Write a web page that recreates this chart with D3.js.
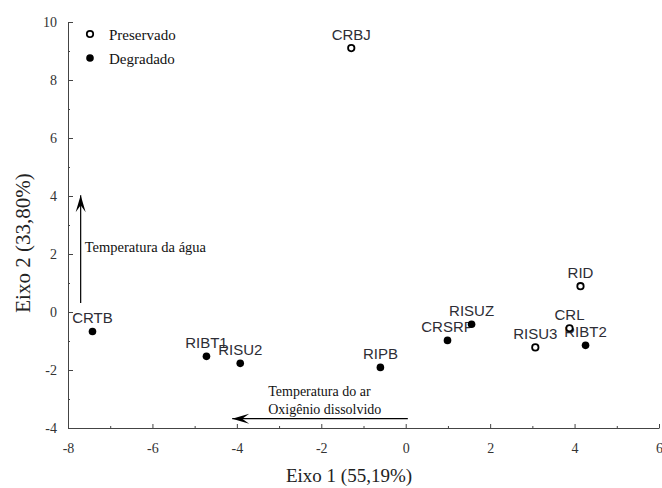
<!DOCTYPE html>
<html>
<head>
<meta charset="utf-8">
<script src="https://cdn.jsdelivr.net/npm/d3@7"></script>
<style>
  body { margin: 0; background: #fff; }
  svg { display: block; }
</style>
</head>
<body>
<div id="chart"></div>
<script>
// site scores on the two ordination axes
var sites = ["CRBJ", "CRTB", "RIBT1", "RISU2", "RIPB", "CRSRP", "RISUZ", "RISU3", "CRL", "RID", "RIBT2"];
var eixo1 = [-1.29, -7.42, -4.72, -3.92, -0.60, 0.99, 1.56, 3.07, 3.88, 4.14, 4.26];
var eixo2 = [9.10, -0.67, -1.53, -1.77, -1.91, -0.98, -0.42, -1.22, -0.56, 0.89, -1.15];
var grupo = ["Preservado", "Degradado", "Degradado", "Degradado", "Degradado", "Degradado",
             "Degradado", "Preservado", "Preservado", "Preservado", "Degradado"];

var legendLabels = ["Preservado", "Degradado"];

// environmental vectors (start -> end, axis units)
var vecX1 = [-7.70, 0.05];
var vecY1 = [0.31, -3.68];
var vecX2 = [-7.70, -4.11];
var vecY2 = [4.03, -3.68];
var vecText = [["Temperatura da água"], ["Temperatura do ar", "Oxigênio dissolvido"]];

var xTicks = d3.range(-8, 7, 1);
var yTicks = d3.range(-4, 11, 1);

var width = 662, height = 488;

var svg = d3.select("#chart").append("svg")
    .attr("width", width)
    .attr("height", height);

var x = d3.scaleLinear().domain([-8, 6]).range([68, 659]);
var y = d3.scaleLinear().domain([-4, 10]).range([428, 22]);

var serif = "'Liberation Serif', 'Times New Roman', serif";
var sans = "'Liberation Sans', Arial, sans-serif";

// axes, ticks pointing inward, labels only on even values
var xAxis = svg.append("g")
    .attr("transform", "translate(0," + y(-4) + ")")
    .call(d3.axisBottom(x).tickValues(xTicks).tickSizeInner(-4).tickSizeOuter(0).tickPadding(15)
      .tickFormat(function(d) { return d % 2 === 0 ? d : ""; }));

var yAxis = svg.append("g")
    .attr("transform", "translate(" + x(-8) + ",0)")
    .call(d3.axisLeft(y).tickValues(yTicks).tickSizeInner(-5).tickSizeOuter(0).tickPadding(11)
      .tickFormat(function(d) { return d % 2 === 0 ? d : ""; }));

[xAxis, yAxis].forEach(function(ax) {
  ax.select(".domain").attr("stroke", "#444");
  ax.selectAll(".tick line").attr("stroke", "#444")
  ax.selectAll("text")
      .attr("font-family", serif)
      .attr("font-size", 14)
      .attr("fill", "#333");
});
xAxis.selectAll(".tick line").filter(function(d) { return d % 2 !== 0; }).attr("y2", -2);
yAxis.selectAll(".tick line").filter(function(d) { return d % 2 !== 0; }).attr("x2", 2);

// axis titles
svg.append("text")
    .attr("x", 349)
    .attr("y", 482)
    .attr("text-anchor", "middle")
    .attr("font-family", serif)
    .attr("font-size", 19)
    .attr("fill", "#222")
    .text("Eixo 1 (55,19%)");

svg.append("text")
    .attr("transform", "translate(30,243) rotate(-90)")
    .attr("text-anchor", "middle")
    .attr("font-family", serif)
    .attr("font-size", 21)
    .attr("fill", "#222")
    .text("Eixo 2 (33,80%)");

// arrowhead
svg.append("defs").append("marker")
    .attr("id", "head")
    .attr("markerUnits", "userSpaceOnUse")
    .attr("viewBox", "-18 -6 20 12")
    .attr("refX", 0).attr("refY", 0)
    .attr("markerWidth", 20).attr("markerHeight", 12)
    .attr("orient", "auto")
  .append("path")
    .attr("d", "M0,0 L-17,-5 L-10,0 L-17,5 Z")
    .attr("fill", "#000");

vecX1.forEach(function(v, i) {
  svg.append("line")
      .attr("x1", x(vecX1[i])).attr("y1", y(vecY1[i]))
      .attr("x2", x(vecX2[i])).attr("y2", y(vecY2[i]))
      .attr("stroke", "#000")
      .attr("stroke-width", 1.2)
      .attr("marker-end", "url(#head)");
});

// vector captions
svg.append("text")
    .attr("x", x(vecX1[0]) + 4)
    .attr("y", (y(vecY1[0]) + y(vecY2[0])) / 2 + 3)
    .attr("font-family", serif)
    .attr("font-size", 14.5)
    .attr("fill", "#111")
    .text(vecText[0][0]);

vecText[1].forEach(function(t, j) {
  svg.append("text")
      .attr("x", x(vecX2[1]) + 36)
      .attr("y", y(vecY1[1]) - 23 + j * 18)
      .attr("font-family", serif)
      .attr("font-size", 14)
      .attr("fill", "#111")
      .text(t);
});

// legend
var legend = svg.append("g").selectAll("g")
    .data(legendLabels)
    .enter().append("g")
    .attr("transform", function(d, i) { return "translate(90," + (34 + i * 24) + ")"; });

legend.append("circle")
    .attr("r", function(d) { return d === "Preservado" ? 3.2 : 3.8; })
    .attr("fill", function(d) { return d === "Preservado" ? "#fff" : "#000"; })
    .attr("stroke", "#000")
    .attr("stroke-width", function(d) { return d === "Preservado" ? 1.8 : 0; });

legend.append("text")
    .attr("x", 19)
    .attr("y", 6)
    .attr("font-family", serif)
    .attr("font-size", 15)
    .attr("fill", "#111")
    .text(function(d) { return d; });

// site labels then points on top
var idx = d3.range(sites.length);

svg.append("g").selectAll("text")
    .data(idx)
    .enter().append("text")
    .attr("x", function(i) { return x(eixo1[i]); })
    .attr("y", function(i) { return y(eixo2[i]) - 8; })
    .attr("text-anchor", "middle")
    .attr("font-family", sans)
    .attr("font-size", 15)
    .attr("fill", "#2d2d35")
    .text(function(i) { return sites[i]; });

svg.append("g").selectAll("circle")
    .data(idx)
    .enter().append("circle")
    .attr("cx", function(i) { return x(eixo1[i]); })
    .attr("cy", function(i) { return y(eixo2[i]); })
    .attr("r", function(i) { return grupo[i] === "Preservado" ? 3.2 : 3.8; })
    .attr("fill", function(i) { return grupo[i] === "Preservado" ? "#fff" : "#000"; })
    .attr("stroke", "#000")
    .attr("stroke-width", function(i) { return grupo[i] === "Preservado" ? 1.8 : 0; });
</script>
</body>
</html>
